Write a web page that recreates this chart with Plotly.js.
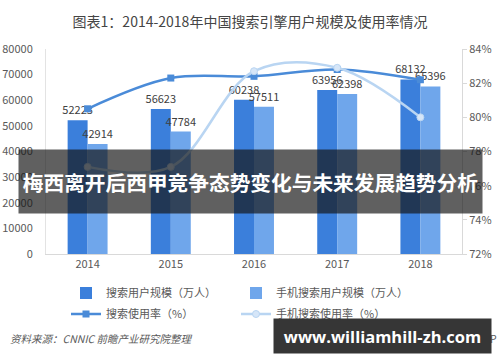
<!DOCTYPE html>
<html>
<head>
<meta charset="utf-8">
<script src="https://cdn.plot.ly/plotly-3.0.1.min.js"></script>
<style>html,body{margin:0;padding:0;background:#fff;}#chart{width:500px;height:362px;}</style>
</head>
<body>
<div id="chart"></div>
<script>
const years = ['2014', '2015', '2016', '2017', '2018'];
const searchUsers = [52223, 56623, 60238, 63956, 68132];
const mobileSearchUsers = [42914, 47784, 57511, 62398, 65396];
const searchRate = [80.5, 82.3, 82.4, 82.8, 82.2];
const mobileSearchRate = [77.1, 77.1, 82.7, 82.9, 80.0];
const seriesNames = ['搜索用户规模（万人）', '手机搜索用户规模（万人）', '搜索使用率（%）', '手机搜索使用率（%）'];
const titleText = '图表1：2014-2018年中国搜索引擎用户规模及使用率情况';
const sourceText = '资料来源：CNNIC 前瞻产业研究院整理';
const appText = '@前瞻经济学人APP';
const bannerText = '梅西离开后西甲竞争态势变化与未来发展趋势分析';
const siteText = 'www.williamhill-zh.com';

const FONT = '"Noto Sans CJK SC", "Noto Sans", sans-serif';

const traces = [
  {type: 'bar', x: years, y: searchUsers, name: seriesNames[0], legend: 'legend',
   marker: {color: '#3b7fdb'}, text: searchUsers.map(String), textposition: 'outside',
   constraintext: 'none', cliponaxis: false,
   textfont: {size: 11, color: '#404040', family: FONT}},
  {type: 'bar', x: years, y: mobileSearchUsers, name: seriesNames[1], legend: 'legend',
   marker: {color: '#6fa6eb'}, text: mobileSearchUsers.map(String), textposition: 'outside',
   constraintext: 'none', cliponaxis: false,
   textfont: {size: 11, color: '#404040', family: FONT}},
  {type: 'scatter', mode: 'lines+markers', x: years, y: searchRate, name: seriesNames[2], yaxis: 'y2', legend: 'legend2',
   line: {color: '#4a8bd8', width: 2.5, shape: 'spline', smoothing: 1},
   marker: {symbol: 'square', size: 7, color: '#4a8bd8'}},
  {type: 'scatter', mode: 'lines+markers', x: years, y: mobileSearchRate, name: seriesNames[3], yaxis: 'y2', legend: 'legend2',
   line: {color: '#b9d5f2', width: 2.5, shape: 'spline', smoothing: 1},
   marker: {symbol: 'circle', size: 7, color: '#d6e6f8', line: {color: '#b9d5f2', width: 1}}}
];

function px(xp) { return (xp - 46) / 416; }
function py(yp) { return (254 - yp) / 205; }

const legendBase = {orientation: 'h', xanchor: 'left', yanchor: 'middle',
  entrywidth: 125, entrywidthmode: 'pixels', traceorder: 'normal',
  font: {size: 11, color: '#595959', family: FONT}, itemwidth: 30, tracegroupgap: 0};

const layout = {
  width: 500, height: 362,
  margin: {l: 46, r: 38, t: 49, b: 108},
  paper_bgcolor: '#fff', plot_bgcolor: '#fff',
  font: {family: FONT, color: '#595959', size: 11},
  title: {text: titleText, x: 0.5, xanchor: 'center', y: 1 - 22/362, yanchor: 'middle',
          font: {size: 14, color: '#454545', family: FONT}},
  barmode: 'group', bargap: 0.52, bargroupgap: 0,
  showlegend: true,
  legend: Object.assign({}, legendBase, {x: px(66), y: py(293)}),
  legend2: Object.assign({}, legendBase, {x: px(66), y: py(314)}),
  xaxis: {type: 'category', showgrid: false, zeroline: false, showline: true, linecolor: '#d9d9d9',
          ticks: '', tickfont: {size: 11, color: '#595959'}, fixedrange: true},
  yaxis: {range: [0, 80000], dtick: 10000, tickformat: 'd', showgrid: false, zeroline: false, showline: true,
          linecolor: '#e3e3e3', ticks: '', ticklabelstandoff: 10,
          tickfont: {size: 11, color: '#595959'}},
  yaxis2: {overlaying: 'y', side: 'right', range: [72, 84], dtick: 2, ticksuffix: '%',
           showgrid: false, zeroline: false, showline: true, linecolor: '#d9d9d9',
           ticks: 'outside', ticklen: 4, tickcolor: '#d9d9d9',
           tickfont: {size: 11, color: '#595959'}},
  annotations: [
    {text: sourceText, xref: 'paper', yref: 'paper', x: px(8), y: py(338), xanchor: 'left', yanchor: 'middle',
     showarrow: false, font: {size: 10.5, color: '#595959', style: 'italic', family: FONT}},
    {text: appText, xref: 'paper', yref: 'paper', x: px(499), y: py(338), xanchor: 'right', yanchor: 'middle',
     showarrow: false, font: {size: 10.5, color: '#595959', family: FONT}},
    {text: '<b>' + bannerText + '</b>', xref: 'paper', yref: 'paper', x: px(250.5), y: py(181.5),
     xanchor: 'center', yanchor: 'middle', showarrow: false, width: 463, height: 63, borderpad: 0,
     bgcolor: 'rgba(20,20,20,0.68)', font: {size: 20.7, color: '#ffffff', family: FONT}},
    {text: '<b>' + siteText + '</b>', xref: 'paper', yref: 'paper', x: px(382.5), y: py(336),
     xanchor: 'center', yanchor: 'middle', showarrow: false, width: 217, height: 34, borderpad: 0,
     bgcolor: '#363636', font: {size: 16.5, color: '#ffffff', family: '"Open Sans", "DejaVu Sans", sans-serif'}}
  ]
};

Plotly.newPlot('chart', traces, layout, {displayModeBar: false, staticPlot: true});
</script>
</body>
</html>
